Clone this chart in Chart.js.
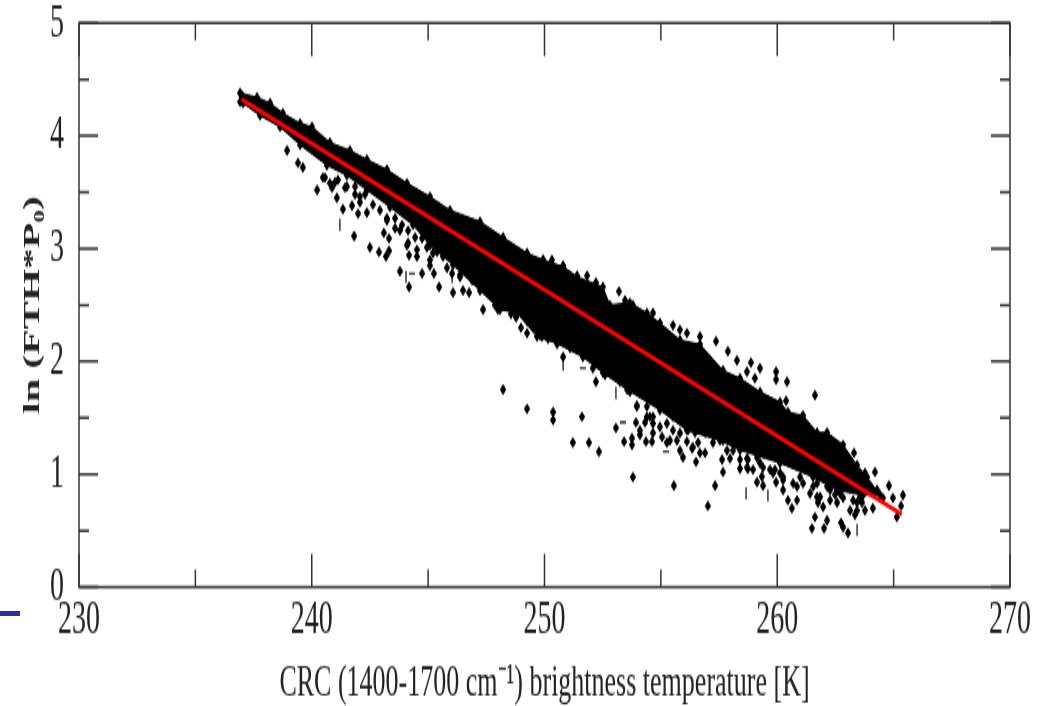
<!DOCTYPE html>
<html>
<head>
<meta charset="utf-8">
<title>ln (FTH*P0) vs CRC brightness temperature</title>
<script src="https://cdn.jsdelivr.net/npm/chart.js@4/dist/chart.umd.min.js"></script>
<style>
  html, body { margin: 0; padding: 0; background: #fff; overflow: hidden; }
  /* the original figure is squashed and stretched tall, so the canvas is too */
  #grafico { display: block; width: 1050px !important; height: 706px !important; filter: blur(0.45px); }
  #traco { position: absolute; left: 0; top: 611px; width: 20px; height: 5px; background: #2e2e9e; }
</style>
</head>
<body>
<canvas id="grafico" width="1050" height="406"></canvas>
<div id="traco"></div>
<script>
// =========================
// DADOS
// =========================
const xTickValues = [230, 240, 250, 260, 270];
const yTickValues = [0, 1, 2, 3, 4, 5];
const xTitle = "CRC (1400-1700 cm\u207B\u00B9) brightness temperature [K]";
const yTitle = "ln (FTH*P\u2080)";

// linear fit
const fitLine = [[237.0, 4.32], [265.35, 0.645]];

// the cloud is too dense to read one by one: upper and lower edge of the solid part
const bandUpper = [
  [236.92,4.38],[237.65,4.34],[238.21,4.29],[238.76,4.20],[239.50,4.11],[240.01,4.08],
  [240.78,3.94],[241.64,3.87],[242.37,3.79],[243.23,3.70],[244.09,3.58],[245.08,3.46],
  [245.94,3.34],[247.23,3.24],[248.22,3.10],[249.25,2.96],[249.94,2.90],[250.80,2.84],
  [251.40,2.75],[252.51,2.66],[252.81,2.50],[253.67,2.52],[254.40,2.43],[254.96,2.34],
  [255.82,2.19],[256.68,2.15],[257.67,1.92],[258.40,1.85],[259.26,1.73],[260.12,1.64],
  [260.46,1.55],[261.11,1.52],[261.71,1.37],[262.14,1.37],[262.83,1.26],[263.43,1.08],
  [263.86,0.975],[264.42,0.815]
];
const bandLower = [
  [263.68,0.815],[262.57,0.86],[261.54,0.975],[260.12,1.10],[258.40,1.215],[257.54,1.30],
  [256.12,1.39],[254.96,1.57],[253.55,1.75],[252.51,1.90],[251.65,2.04],[250.54,2.16],
  [249.68,2.22],[248.82,2.43],[248.09,2.46],[247.23,2.63],[246.07,2.855],[245.08,3.03],
  [244.35,3.21],[243.36,3.37],[242.37,3.52],[241.51,3.65],[240.65,3.74],[239.50,3.92],
  [238.64,4.08],[237.78,4.18],[237.05,4.29]
];

// points in the lumps along the lower edge of the band
const pointsEdge = [
  [240.48,3.63],[240.78,3.58],[241.13,3.61],[241.51,3.55],[241.86,3.48],[242.07,3.41],
  [242.29,3.48],[242.63,3.39],[242.93,3.34],[243.23,3.27],[243.58,3.27],[243.88,3.21],
  [244.14,3.16],[244.44,3.10],[244.14,3.05],[244.52,2.99],[244.95,3.01],[245.21,2.96],
  [245.08,2.85],[245.64,2.93],[246.07,2.94],[246.46,2.87],[246.37,2.75],[246.93,2.81],
  [247.23,2.72],[247.53,2.66],[247.96,2.57],[248.22,2.54],[248.82,2.57],[247.87,2.50],
  [248.39,2.57],[248.73,2.43],[249.51,2.35],[249.89,2.22],[250.54,2.16],[251.10,2.12],
  [251.74,2.07],[252.17,1.99],[252.60,1.88],[253.24,1.82],[253.67,1.73],[253.97,1.61],
  [254.40,1.60],[254.53,1.51],[255.05,1.60],[255.52,1.51],[255.95,1.63],[256.55,1.66],
  [257.67,1.30],[258.10,1.21],[258.70,1.14],[259.26,1.10],[259.69,1.04],[260.12,1.01],
  [260.68,0.92],[261.11,0.92],[261.54,0.89],[262.14,0.89],[262.48,0.82],[261.84,0.80],
  [262.83,0.79],[263.64,0.75],[255.82,1.365],[256.38,1.42],[257.24,1.28],[257.84,1.21],
  [257.24,1.42],[256.38,1.24],[256.68,1.19],[255.69,1.30],[255.26,1.28],[254.96,1.42],
  [254.66,1.365],[254.40,1.51],[253.97,1.60],[254.10,1.39],[254.66,1.51],[255.52,1.39],
  [258.70,1.06],[258.40,1.13],[258.96,1.04],[259.82,1.01],[260.25,0.95],[260.98,0.975],
  [261.71,0.92],[262.27,0.86],[261.71,0.80],[262.27,0.77],[262.70,0.83],[263.26,0.77],
  [263.43,0.68],[263.56,0.80]
];

// single points that can be told apart, below the band
const pointsBelow = [
  [238.94,3.87],[239.41,3.76],[239.62,3.72],[240.23,3.52],[240.57,3.63],[240.87,3.54],
  [241.00,3.59],[241.08,3.45],[241.43,3.54],[241.34,3.35],[241.73,3.38],[241.86,3.55],
  [241.99,3.31],[242.07,3.46],[242.37,3.32],[241.82,3.11],[242.50,3.01],[242.89,2.97],
  [243.19,2.93],[243.32,2.98],[243.10,3.14],[243.32,3.09],[243.23,3.25],[243.58,3.18],
  [243.79,3.16],[243.79,2.80],[244.18,2.66],[244.18,2.94],[244.09,3.03],[244.52,2.93],
  [244.74,3.09],[244.74,2.78],[245.08,2.90],[245.25,2.78],[245.38,2.97],[245.47,2.66],
  [245.73,3.01],[245.81,2.83],[246.03,2.78],[246.07,2.93],[246.07,2.61],[246.37,2.77],
  [246.50,2.63],[246.76,2.61],[246.89,2.72],[247.10,2.78],[247.36,2.70],[247.36,2.46],
  [247.79,2.57],[248.00,2.46],[248.17,2.57],[248.39,2.59],[248.56,2.42],[248.78,2.39],
  [248.99,2.30],[249.25,2.25],[249.25,2.36],[249.81,2.23],[250.15,2.20],[248.22,1.75],
  [249.25,1.58],[250.37,1.55],[250.37,1.48],[251.61,1.51],[250.80,2.04],[252.08,1.94],
  [252.21,1.82],[251.22,1.28],[251.91,1.28],[252.34,1.20],[253.07,1.41],[253.42,1.29],
  [253.76,1.32],[253.76,1.26],[253.80,0.975],[253.93,1.46],[254.32,1.46],[254.10,1.35],
  [254.36,1.29],[254.62,1.29],[254.66,1.45],[255.05,1.33],[255.26,1.45],[255.39,1.30],
  [255.48,1.54],[255.82,1.63],[255.82,1.21],[255.95,1.15],[256.17,1.39],[256.12,1.29],
  [256.34,1.23],[256.47,1.37],[256.51,1.11],[256.60,1.28],[256.90,1.19],[256.90,1.37],
  [257.02,0.72],[255.56,0.90],[257.33,0.90],[257.63,1.13],[257.67,1.02],[257.97,1.14],
  [258.40,1.05],[258.74,1.13],[258.74,1.05],[259.13,1.15],[259.13,0.93],[259.34,0.98],
  [259.39,0.90],[259.39,1.06],[259.90,1.04],[259.95,0.93],[260.25,0.975],[260.25,0.86],
  [260.46,0.77],[260.85,0.77],[260.85,0.89],[260.63,0.70],[261.41,0.83],[261.62,0.62],
  [261.49,0.52],[261.75,0.75],[261.97,0.71],[262.14,0.59],[262.01,0.52],[262.57,0.75],
  [262.74,0.57],[262.83,0.53],[263.04,0.48],[263.13,0.68],[263.34,0.64],[263.43,0.75],
  [263.77,0.68],[264.11,0.70],[263.98,0.89],[264.29,0.86],[264.54,0.79],[264.97,0.79],
  [265.40,0.815],[265.32,0.72],[265.14,0.62],[264.80,0.90],[264.20,1.02],[263.77,1.01],
  [263.30,1.19]
];

// single points above the band
const pointsAbove = [
  [237.0,4.36],[236.92,4.30],[249.94,2.90],[250.32,2.90],[250.80,2.85],[251.10,2.76],
  [251.40,2.76],[251.83,2.76],[251.83,2.68],[252.21,2.70],[253.20,2.62],[253.46,2.54],
  [253.46,2.46],[253.80,2.50],[254.66,2.43],[255.52,2.32],[255.82,2.28],[256.12,2.25],
  [256.68,2.22],[257.37,2.18],[257.88,2.09],[258.27,2.01],[258.87,1.99],[258.70,1.91],
  [259.04,1.85],[259.26,1.94],[259.95,1.91],[259.95,1.84],[260.42,1.82],[260.38,1.65],
  [261.62,1.70],[261.06,1.51]
];

// markers that came out as a small bar or dash in the scan
const barMarks = [
  [241.21,3.21],[244.05,2.75],[246.03,2.75],[250.80,1.97],[253.07,1.72],[258.66,0.83],
  [259.60,0.81],[263.43,0.505]
];
const dashMarks = [[244.31,2.78],[251.65,1.94],[253.37,1.46],[255.22,1.20]];

const toXY = list => list.map(p => ({ x: p[0], y: p[1] }));

// =========================
// MOLDURA E TICKS PARA DENTRO
// =========================
const framePlugin = {
  id: "frame",
  afterDraw(chart) {
    const { ctx, chartArea: a, scales } = chart;
    const major = 19, minor = 10;
    ctx.save();
    ctx.strokeStyle = "#333";
    ctx.lineWidth = 1.5;
    ctx.strokeRect(a.left, a.top, a.right - a.left, a.bottom - a.top);
    ctx.beginPath();
    scales.x.ticks.forEach(t => {
      const px = scales.x.getPixelForValue(t.value);
      const len = xTickValues.includes(t.value) ? major : minor;
      ctx.moveTo(px, a.bottom); ctx.lineTo(px, a.bottom - len);
      ctx.moveTo(px, a.top); ctx.lineTo(px, a.top + len);
    });
    scales.y.ticks.forEach(t => {
      const py = scales.y.getPixelForValue(t.value);
      const len = yTickValues.includes(t.value) ? major : minor;
      ctx.moveTo(a.left, py); ctx.lineTo(a.left + len, py);
      ctx.moveTo(a.right, py); ctx.lineTo(a.right - len, py);
    });
    ctx.stroke();
    ctx.restore();
  }
};

// =========================
// GRÁFICO
// =========================
const serif = "'Liberation Serif', 'Times New Roman', serif";
const markerBase = { showLine: false, backgroundColor: "#000", borderColor: "#000", pointBorderWidth: 0, order: 2 };

new Chart(document.getElementById("grafico"), {
  type: "scatter",
  data: {
    datasets: [
      {
        label: "fit",
        data: toXY(fitLine),
        showLine: true,
        borderColor: "#ff0000",
        borderWidth: 2.6,
        pointRadius: 0,
        order: 0
      },
      {
        label: "band",
        data: toXY(bandUpper.concat(bandLower)),
        showLine: true,
        fill: "shape",
        backgroundColor: "#000",
        borderColor: "#000",
        borderWidth: 1,
        pointStyle: "rectRot",
        pointRadius: 3.2,
        pointBorderWidth: 0,
        order: 3
      },
      { ...markerBase, label: "edge", data: toXY(pointsEdge), pointStyle: "rectRot", pointRadius: 3.2 },
      { ...markerBase, label: "below", data: toXY(pointsBelow), pointStyle: "rectRot", pointRadius: 3.2 },
      { ...markerBase, label: "above", data: toXY(pointsAbove), pointStyle: "rectRot", pointRadius: 3.2 },
      { ...markerBase, label: "bars", data: toXY(barMarks), pointStyle: "line", pointRotation: 90, pointRadius: 3.5, pointBorderWidth: 1.2 },
      { ...markerBase, label: "dashes", data: toXY(dashMarks), pointStyle: "line", pointRadius: 3, pointBorderWidth: 1.2 }
    ]
  },
  options: {
    responsive: false,
    animation: false,
    layout: { padding: { top: 13.2, right: 40, left: 0, bottom: 0 } },
    plugins: { legend: { display: false }, tooltip: { enabled: false } },
    scales: {
      x: {
        type: "linear",
        min: 230,
        max: 270,
        afterFit: s => { s.height = 68.4; s.paddingLeft = 0; s.paddingRight = 0; },
        grid: { display: false },
        border: { display: false },
        ticks: {
          stepSize: 5,
          autoSkip: false,
          maxRotation: 0,
          padding: -6,
          color: "#222",
          font: { family: serif, size: 28 },
          callback: v => xTickValues.includes(v) ? String(v) : ""
        },
        title: {
          display: true,
          text: xTitle,
          color: "#222",
          font: { family: serif, size: 26 },
          padding: { top: 0, bottom: -3 }
        }
      },
      y: {
        type: "linear",
        min: 0,
        max: 5,
        afterFit: s => { s.width = 79; s.paddingTop = 0; s.paddingBottom = 0; },
        grid: { display: false },
        border: { display: false },
        ticks: {
          stepSize: 0.5,
          autoSkip: false,
          padding: 7,
          color: "#222",
          font: { family: serif, size: 28 },
          callback: v => yTickValues.includes(v) ? String(v) : ""
        },
        title: {
          display: true,
          text: yTitle,
          color: "#222",
          font: { family: serif, size: 24, weight: "bold" },
          padding: { top: 18, bottom: 0 }
        }
      }
    }
  },
  plugins: [framePlugin]
});
</script>
</body>
</html>
